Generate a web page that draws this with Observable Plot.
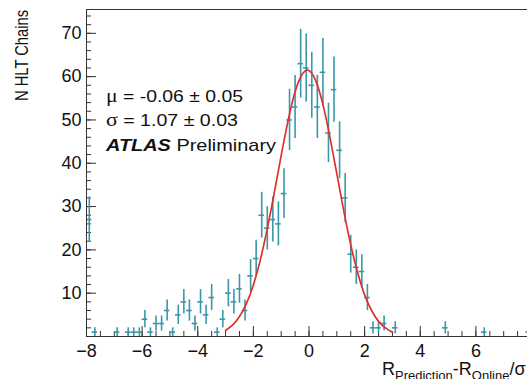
<!DOCTYPE html>
<html><head><meta charset="utf-8">
<script src="https://cdn.jsdelivr.net/npm/d3@7"></script>
<script src="https://cdn.jsdelivr.net/npm/@observablehq/plot@0.6"></script>
<style>
html,body{margin:0;padding:0;background:#fff;overflow:hidden;}
#chart{width:527px;height:379px;overflow:hidden;}
</style></head><body><div id="chart"></div>
<script>
// Histogram bin centers (bin width 0.2) and counts (only non-empty bins)
const binCenters = [-7.9,-7.7,-6.9,-6.5,-6.3,-6.1,-5.9,-5.7,-5.5,-5.3,-5.1,-4.9,-4.7,-4.5,-4.3,-4.1,-3.9,-3.7,-3.5,-3.3,-3.1,-2.9,-2.7,-2.5,-2.3,-2.1,-1.9,-1.7,-1.5,-1.3,-1.1,-0.9,-0.7,-0.5,-0.3,-0.1,0.1,0.3,0.5,0.7,0.9,1.1,1.3,1.5,1.7,1.9,2.1,2.3,2.5,2.7,3.1,4.9,6.3,7.9];
const counts     = [27,1,1,1,1,1,4,1,3,3,6,1,5,8,6,3,8,5,9,1,4,10,8,11,6,14,18,28,25,27,26,33,50,53,63,62,58,53,61,47,57,43,32,19,16,15,9,2,2,3,2,2,1,1];
// Fitted gaussian curve
const fitX = [-3,-2.75,-2.5,-2.25,-2,-1.75,-1.5,-1.25,-1,-0.75,-0.5,-0.25,0,0.25,0.5,0.75,1,1.25,1.5,1.75,2,2.25,2.5,2.75,3];
const fitY = [1.4,2.6,4.6,7.6,11.9,17.7,24.9,33.1,41.8,49.9,56.5,60.5,61.4,58.9,53.6,46.1,37.6,29.0,21.2,14.7,9.6,6.0,3.5,2.0,1.0];
const xTicks = [-8,-6,-4,-2,0,2,4,6,8];
const yTicks = [10,20,30,40,50,60,70];
const xMinor = d3.range(-8, 8.01, 0.5);
const yMinor = d3.range(2, 75, 2);
const yTitle = "N HLT Chains";
const statSymbols = ["μ", "σ"];
const statTexts = [" = -0.06 ± 0.05", " = 1.07 ± 0.03"];
const atlasTag = "ATLAS";
const atlasText = " Preliminary";

const W = 527, H = 379, ML = 86, MR = -4, MT = 9, MB = 43;
const plotH = H - MT - MB, plotW = W - ML - MR;
const bins = binCenters.map((c, i) => ({c, n: counts[i], e: Math.sqrt(counts[i])}));
const fit = fitX.map((x, i) => ({x, y: fitY[i]}));
const dataColor = "#3a97aa";
const axisColor = "#333";

const chart = Plot.plot({
  width: W, height: H,
  marginLeft: ML, marginRight: MR, marginTop: MT, marginBottom: MB,
  style: {fontFamily: "'Liberation Sans', Arial, Helvetica, sans-serif", background: "#fff", color: "#111"},
  x: {domain: [-8, 8]},
  y: {domain: [0, 75.5]},
  marks: [
    Plot.tickX(xMinor, {x: d => d, insetTop: plotH - 5, stroke: axisColor}),
    Plot.tickX(xTicks, {x: d => d, insetTop: plotH - 10, stroke: axisColor}),
    Plot.tickY(yMinor, {y: d => d, insetRight: plotW - 5, stroke: axisColor}),
    Plot.tickY(yTicks, {y: d => d, insetRight: plotW - 10, stroke: axisColor}),
    Plot.axisX({ticks: xTicks, tickSize: 0, tickPadding: 8, fontSize: 18, label: null,
                tickFormat: d => d < 0 ? "\u2212" + (-d) : String(d)}),
    Plot.axisY({ticks: yTicks, tickSize: 0, tickPadding: 5, fontSize: 18, label: null}),
    Plot.ruleX(bins, {x: "c", y1: d => Math.max(0, d.n - d.e), y2: d => d.n + d.e, stroke: dataColor, strokeWidth: 1.6}),
    Plot.ruleY(bins, {y: "n", x1: d => d.c - 0.1, x2: d => d.c + 0.1, stroke: dataColor, strokeWidth: 1.6}),
    Plot.line(fit, {x: "x", y: "y", curve: "natural", stroke: "#e0302b", strokeWidth: 1.7}),
    Plot.frame({stroke: axisColor})
  ]
});
document.getElementById("chart").appendChild(chart);

const svg = d3.select(chart);
const font = "'Liberation Sans', Arial, Helvetica, sans-serif";
const serif = "'Liberation Serif', 'Times New Roman', serif";

// Y axis title
svg.append("text")
  .attr("transform", "translate(28,10) rotate(-90)")
  .attr("text-anchor", "end")
  .attr("font-family", font).attr("font-size", 18).attr("fill", "#111")
  .attr("textLength", 91).attr("lengthAdjust", "spacingAndGlyphs")
  .text(yTitle);

// Fit statistics
const baselines = [102, 126];
const widths = [137, 132];
statTexts.forEach((t, i) => {
  const tx = svg.append("text")
    .attr("x", 106).attr("y", baselines[i])
    .attr("text-anchor", "start")
    .attr("font-family", font).attr("font-size", 17).attr("fill", "#111")
    .attr("textLength", widths[i]).attr("lengthAdjust", "spacingAndGlyphs");
  tx.append("tspan").attr("font-family", serif).attr("font-size", 19).text(statSymbols[i]);
  tx.append("tspan").text(t);
});
const atl = svg.append("text")
  .attr("x", 106).attr("y", 151)
  .attr("text-anchor", "start")
  .attr("font-family", font).attr("font-size", 17).attr("fill", "#111")
  .attr("textLength", 170).attr("lengthAdjust", "spacingAndGlyphs");
atl.append("tspan").attr("font-weight", "bold").attr("font-style", "italic").text(atlasTag);
atl.append("tspan").text(atlasText);

// X axis title
const xt = svg.append("text")
  .attr("x", 382).attr("y", 375)
  .attr("text-anchor", "start")
  .attr("font-family", font).attr("font-size", 18).attr("fill", "#111");
xt.append("tspan").text("R");
xt.append("tspan").attr("font-size", 13).attr("dy", 4.5).text("Prediction");
xt.append("tspan").attr("dy", -4.5).text("-R");
xt.append("tspan").attr("font-size", 13).attr("dy", 4.5).text("Online");
xt.append("tspan").attr("dy", -4.5).text("/σ");
</script>
</body></html>
